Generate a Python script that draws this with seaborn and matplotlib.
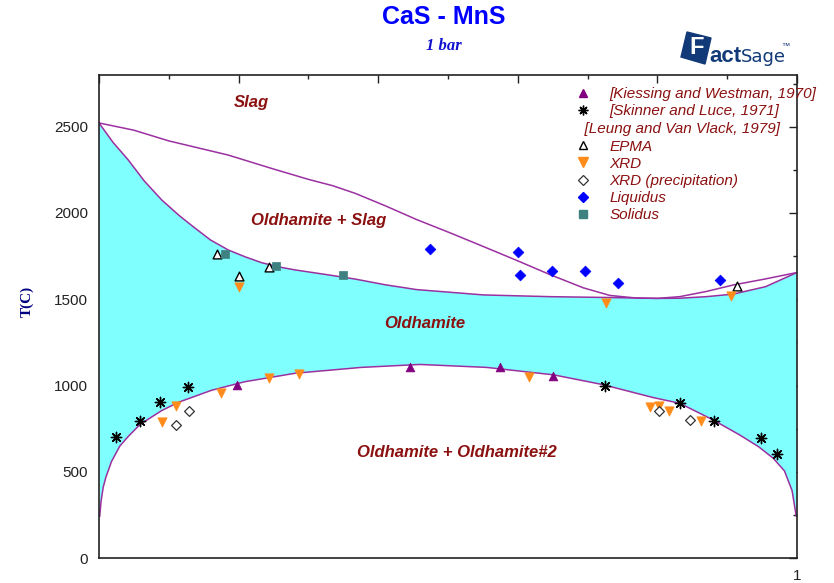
import matplotlib
matplotlib.use("Agg")
import matplotlib.pyplot as plt
import matplotlib.patches as mpatches
from matplotlib.lines import Line2D
import numpy as np
import seaborn as sns

# calculated phase boundaries (x = mole fraction MnS, T in C)
liq_x = [0.0, 0.05, 0.1, 0.185, 0.25, 0.3, 0.335, 0.367, 0.41, 0.455, 0.503, 0.551, 0.598,
         0.646, 0.694, 0.732, 0.77, 0.8, 0.832, 0.87, 0.909, 0.955, 1.0]
liq_t = [2522, 2480, 2418, 2336, 2255, 2195, 2158, 2114, 2042, 1962, 1885, 1805, 1726,
         1643, 1566, 1522, 1507, 1505, 1515, 1545, 1583, 1618, 1655]

sol_x = [0.0, 0.02, 0.042, 0.065, 0.09, 0.115, 0.138, 0.16, 0.185, 0.21, 0.233, 0.257,
         0.281, 0.329, 0.367, 0.41, 0.455, 0.551, 0.646, 0.732, 0.8, 0.832, 0.87,
         0.909, 0.955, 1.0]
sol_t = [2522, 2410, 2307, 2185, 2075, 1985, 1911, 1843, 1786, 1745, 1712, 1688,
         1670, 1641, 1617, 1584, 1556, 1525, 1515, 1510, 1505, 1506, 1515,
         1530, 1573, 1655]

solv_x = [0.001, 0.003, 0.006, 0.01, 0.018, 0.03, 0.042, 0.059, 0.09, 0.114, 0.161,
          0.209, 0.281, 0.376, 0.46, 0.555, 0.651, 0.722, 0.794, 0.832, 0.88, 0.918,
          0.945, 0.966, 0.982, 0.993, 0.999]
solv_t = [240, 330, 410, 470, 560, 650, 705, 775, 855, 903, 972,
          1022, 1071, 1105, 1122, 1105, 1062, 1005, 930, 897, 800, 713,
          645, 578, 505, 390, 240]

# experimental points
kw_x = [0.197, 0.445, 0.574, 0.651]
kw_t = [1003, 1107, 1110, 1055]

sl_x = [0.025, 0.059, 0.088, 0.127, 0.725, 0.833, 0.881, 0.949, 0.972]
sl_t = [700, 796, 902, 993, 997, 900, 794, 698, 601]

epma_x = [0.169, 0.2, 0.243, 0.914]
epma_t = [1762, 1637, 1689, 1577]

xrd_x = [0.09, 0.111, 0.175, 0.244, 0.287, 0.2, 0.616, 0.79, 0.803, 0.816, 0.863, 0.726, 0.905]
xrd_t = [790, 883, 955, 1042, 1065, 1573, 1051, 877, 883, 850, 796, 1478, 1519]

xrdp_x = [0.11, 0.129, 0.802, 0.847]
xrdp_t = [771, 854, 854, 800]

liqd_x = [0.474, 0.601, 0.603, 0.649, 0.696, 0.743, 0.89]
liqd_t = [1790, 1776, 1641, 1664, 1664, 1596, 1612]

sold_x = [0.18, 0.253, 0.35]
sold_t = [1761, 1693, 1641]

legend_labels = ["[Kiessing and Westman, 1970]", "[Skinner and Luce, 1971]",
                 "EPMA", "XRD", "XRD (precipitation)", "Liquidus", "Solidus"]
leung_title = "  [Leung and Van Vlack, 1979]"

region_labels = ["Slag", "Oldhamite + Slag", "Oldhamite", "Oldhamite + Oldhamite#2"]
region_x = [0.218, 0.315, 0.467, 0.513]
region_t = [2643, 1954, 1357, 609]

line_c = "#9b30a0"
fill_c = "#80ffff"
purple = "#800080"
orange = "#ff8c1a"
teal = "#3f8080"
dred = "#8b1010"
star = (8, 2, 0)

sns.set_style("white")
plt.rcParams["font.family"] = ["Liberation Sans", "DejaVu Sans"]

W, H = 834, 583
fig = plt.figure(figsize=(W / 100, H / 100), dpi=100)
ax = fig.add_axes([99 / W, 25 / H, 698 / W, 483 / H])

# single phase oldhamite region
ax.fill(np.r_[sol_x, solv_x[::-1]], np.r_[sol_t, solv_t[::-1]],
        color=fill_c, lw=0, zorder=1)

for xs, ts in [(liq_x, liq_t), (sol_x, sol_t), (solv_x, solv_t)]:
    sns.lineplot(x=xs, y=ts, sort=False, estimator=None, color=line_c,
                 lw=1.1, ax=ax, zorder=2)

sns.scatterplot(x=kw_x, y=kw_t, marker="^", s=40, color=purple, edgecolor=purple,
                linewidth=0.5, ax=ax, zorder=4)
sns.scatterplot(x=sl_x, y=sl_t, marker=star, s=55, color="black", edgecolor="black",
                linewidth=1.0, ax=ax, zorder=4)
sns.scatterplot(x=epma_x, y=epma_t, marker="^", s=40, color="white", edgecolor="black",
                linewidth=1.0, ax=ax, zorder=4)
sns.scatterplot(x=xrd_x, y=xrd_t, marker="v", s=45, color=orange, edgecolor=orange,
                linewidth=0.5, ax=ax, zorder=4)
sns.scatterplot(x=xrdp_x, y=xrdp_t, marker="D", s=25, color="white", edgecolor="#333333",
                linewidth=0.9, ax=ax, zorder=4)
sns.scatterplot(x=liqd_x, y=liqd_t, marker="D", s=30, color="blue", edgecolor="blue",
                linewidth=0.5, ax=ax, zorder=4)
sns.scatterplot(x=sold_x, y=sold_t, marker="s", s=38, color=teal, edgecolor=teal,
                linewidth=0.5, ax=ax, zorder=4)

for lab, rx, rt in zip(region_labels, region_x, region_t):
    ax.text(rx, rt, lab, color=dred, fontsize=12, fontweight="bold",
            fontstyle="italic", ha="center", va="center", zorder=5)

ax.set_xlim(0, 1)
ax.set_ylim(0, 2800)
ax.set_xticks([0, 0.2, 0.4, 0.6, 0.8, 1.0], ["", "", "", "", "", "1"])
ax.set_xticks([0.1, 0.3, 0.5, 0.7, 0.9], minor=True)
ax.set_yticks([0, 500, 1000, 1500, 2000, 2500])
ax.set_yticks(np.arange(250, 2800, 500), minor=True)
ax.tick_params(which="both", direction="in", top=True, right=True, width=1,
               colors="#222222", labelsize=11, pad=8)
ax.tick_params(which="major", length=6)
ax.tick_params(which="minor", length=3)
for s in ax.spines.values():
    s.set_color("#222222")
    s.set_linewidth(1.2)
ax.set_xlabel("")
ax.set_ylabel("")

# legend
h1 = [Line2D([], [], ls="none", marker="^", ms=6, color=purple),
      Line2D([], [], ls="none", marker=star, ms=7, mew=1, color="black")]
h2 = [Line2D([], [], ls="none", marker="^", ms=6, mfc="white", mec="black", mew=1),
      Line2D([], [], ls="none", marker="v", ms=6.5, color=orange),
      Line2D([], [], ls="none", marker="D", ms=5, mfc="white", mec="#333333", mew=0.9),
      Line2D([], [], ls="none", marker="D", ms=5.5, color="blue"),
      Line2D([], [], ls="none", marker="s", ms=6, color=teal)]
leg_kw = dict(loc="upper left", frameon=False, labelcolor=dred,
              prop=dict(style="italic", size=11), handlelength=1.0,
              handletextpad=1.2, labelspacing=0.21, borderpad=0, borderaxespad=0)
leg1 = ax.legend(h1, legend_labels[:2], bbox_to_anchor=(0.683, 0.975), **leg_kw)
ax.add_artist(leg1)
leg2 = ax.legend(h2, legend_labels[2:], bbox_to_anchor=(0.683, 0.902),
                 title=leung_title, title_fontproperties=dict(style="italic", size=11),
                 alignment="left", **leg_kw)
leg2.get_title().set_color(dred)

# titles
fig.text(444 / W, 1 - 17 / H, "CaS - MnS", color="#0000ff", fontsize=18,
         fontweight="bold", ha="center", va="center")
fig.text(444 / W, 1 - 46 / H, "1 bar", color="#1010d0", fontsize=12,
         fontweight="bold", fontstyle="italic", family=["Liberation Serif", "DejaVu Serif"],
         ha="center", va="center")
fig.text(27 / W, 1 - 301 / H, "T(C)", color="#000080", fontsize=11, rotation=90,
         fontweight="bold", family=["Liberation Serif", "DejaVu Serif"],
         ha="center", va="center")

# FactSage logo
logo_c = "#123a78"
corners = [(687, 32), (711, 38), (705, 64), (681, 57)]
fig.patches.append(mpatches.Polygon([(px / W, 1 - py / H) for px, py in corners],
                                    closed=True, color=logo_c, transform=fig.transFigure))
fig.text(697 / W, 1 - 48 / H, "F", color="white", fontsize=17, fontweight="heavy",
         ha="center", va="center")
fig.text(709 / W, 1 - 62 / H, "act", color=logo_c, fontsize=16, fontweight="heavy",
         ha="left", va="baseline")
fig.text(741 / W, 1 - 62 / H, "Sage", color=logo_c, fontsize=13,
         family=["Liberation Sans Narrow", "DejaVu Sans"], ha="left", va="baseline")
fig.text(781 / W, 1 - 46 / H, "\u2122", color=logo_c, fontsize=6, ha="left", va="center")

fig.savefig("out.png", dpi=100)
